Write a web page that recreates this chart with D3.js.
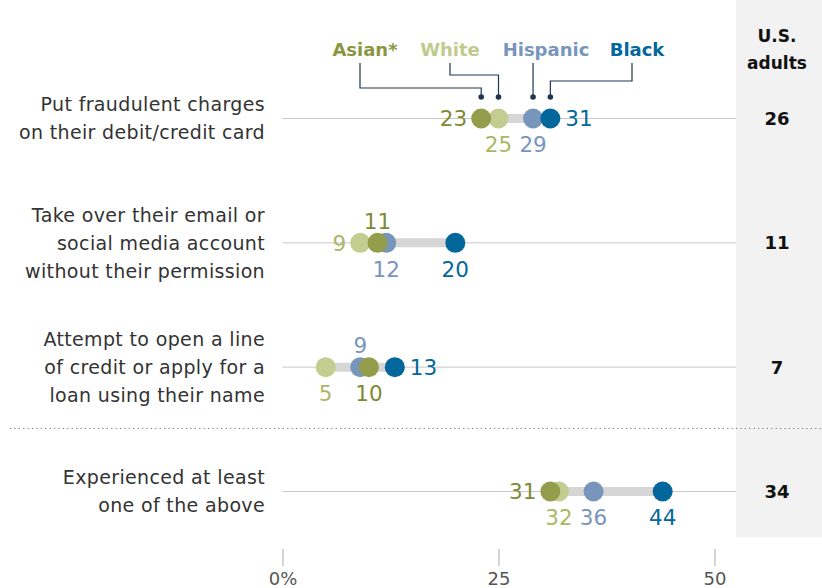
<!DOCTYPE html>
<html><head><meta charset="utf-8">
<script src="https://cdn.jsdelivr.net/npm/d3@7"></script>
<style>body{margin:0;background:#fff}svg{display:block}text{font-family:"DejaVu Sans",sans-serif}</style>
</head><body><svg id="c" width="822" height="588"></svg>
<script>
const categories = [
  ["Put fraudulent charges","on their debit/credit card"],
  ["Take over their email or","social media account","without their permission"],
  ["Attempt to open a line","of credit or apply for a","loan using their name"],
  ["Experienced at least","one of the above"]
];
const groups = ["Asian*","White","Hispanic","Black"];
const asian = [23, 11, 10, 31];
const white = [25, 9, 5, 32];
const hispanic = [29, 12, 9, 36];
const black = [31, 20, 13, 44];
const usAdults = [26, 11, 7, 34];
const tickValues = [0, 25, 50];
const tickLabels = ["0%", "25", "50"];

// label placement per group per row (style)
const place = {
  "Asian*":   ["left","above","below","left"],
  "White":    ["below","left","below","below"],
  "Hispanic": ["below","below","above","below"],
  "Black":    ["right","below","right","below"]
};
const dotColor = {"Asian*":"#949d4b","White":"#c3cd90","Hispanic":"#7896bb","Black":"#03679b"};
const textColor = {"Asian*":"#7f8a36","White":"#a9b766","Hispanic":"#7896bb","Black":"#03679b"};
const legendColor = {"Asian*":"#8a9640","White":"#bfcb8c","Hispanic":"#7896bb","Black":"#03679b"};
const seriesData = {"Asian*":asian,"White":white,"Hispanic":hispanic,"Black":black};

const svg = d3.select("#c");
const x = d3.scaleLinear().domain([0,50]).range([282.5,714.5]);
const y = d3.scalePoint().domain(d3.range(categories.length)).range([118.5,491.5]);
const R = 10;

// US adults panel
svg.append("rect").attr("x",736).attr("y",0).attr("width",86).attr("height",537).attr("fill","#f2f2f2");
svg.append("text").attr("x",777).attr("y",42).attr("text-anchor","middle").attr("font-weight","bold").attr("font-size",17).attr("fill","#111").text("U.S.");
svg.append("text").attr("x",777).attr("y",69).attr("text-anchor","middle").attr("font-weight","bold").attr("font-size",17).attr("fill","#111").text("adults");

// dotted separator
svg.append("line").attr("x1",10).attr("x2",822).attr("y1",428.5).attr("y2",428.5)
  .attr("stroke","#777").attr("stroke-width",1.2).attr("stroke-dasharray","1.2,3.2");

// axis
const axisG = svg.append("g").attr("transform","translate(0,549)");
axisG.call(d3.axisBottom(x).tickValues(tickValues).tickSize(17).tickFormat((d,i)=>tickLabels[i]));
axisG.select(".domain").remove();
axisG.selectAll(".tick line").attr("stroke","#aaa");
axisG.selectAll(".tick text").attr("font-size",18).attr("fill","#555").attr("y",36).attr("dy",0).attr("font-family","DejaVu Sans, sans-serif");

const rows = svg.append("g").selectAll("g").data(categories).join("g")
  .attr("transform",(d,i)=>`translate(0,${y(i)})`);

rows.append("line").attr("x1",x(0)).attr("x2",736).attr("stroke","#c8c8c8").attr("stroke-width",1);
rows.each(function(lines,i){
  const g = d3.select(this);
  const n = lines.length;
  lines.forEach((l,k)=>{
    g.append("text").attr("x",265).attr("y",(k-(n-1)/2)*28).attr("dy","0.36em")
      .attr("text-anchor","end").attr("font-size",19).attr("letter-spacing","0.35px").attr("fill","#333").text(l);
  });
  const vals = groups.map(gr=>seriesData[gr][i]);
  g.append("line").attr("x1",x(d3.min(vals))).attr("x2",x(d3.max(vals)))
    .attr("stroke","#d6d6d6").attr("stroke-width",9);
  ["White","Hispanic","Black","Asian*"].forEach(gr=>{
    g.append("circle").attr("cx",x(seriesData[gr][i])).attr("r",R).attr("fill",dotColor[gr]);
  });
  groups.forEach(gr=>{
    const v = seriesData[gr][i], p = place[gr][i];
    const t = g.append("text").attr("font-size",21.5).attr("fill",textColor[gr]).text(v);
    if(p==="left") t.attr("x",x(v)-R-4).attr("dy","0.36em").attr("text-anchor","end");
    else if(p==="right") t.attr("x",x(v)+R+5).attr("dy","0.36em").attr("text-anchor","start");
    else if(p==="below") t.attr("x",x(v)).attr("y",26).attr("dy","0.36em").attr("text-anchor","middle");
    else t.attr("x",x(v)).attr("y",-22).attr("dy","0.36em").attr("text-anchor","middle");
  });
  g.append("text").attr("x",777).attr("dy","0.36em").attr("text-anchor","middle")
    .attr("font-weight","bold").attr("font-size",18).attr("fill","#111").text(usAdults[i]);
});

// legend with leader lines
const legendX = {"Asian*":365,"White":450,"Hispanic":546,"Black":637};
const leg = svg.append("g");
groups.forEach(gr=>{
  leg.append("text").attr("x",legendX[gr]).attr("y",50).attr("dy","0.36em").attr("text-anchor","middle")
    .attr("font-weight","bold").attr("font-size",18).attr("fill",legendColor[gr]).text(gr);
});
const leaders = [
  {g:"Asian*", sx:360, my:88},
  {g:"White", sx:450, my:75},
  {g:"Hispanic", sx:533, my:null},
  {g:"Black", sx:632, my:81}
];
leaders.forEach(d=>{
  const tx = x(seriesData[d.g][0]);
  const pts = d.my==null ? [[tx,63],[tx,97]] : [[d.sx,63],[d.sx,d.my],[tx,d.my],[tx,97]];
  leg.append("path").attr("d",d3.line()(pts)).attr("fill","none").attr("stroke","#1f3550").attr("stroke-width",1.2);
  leg.append("circle").attr("cx",tx).attr("cy",97).attr("r",2.8).attr("fill","#1f3550");
});
</script></body></html>
